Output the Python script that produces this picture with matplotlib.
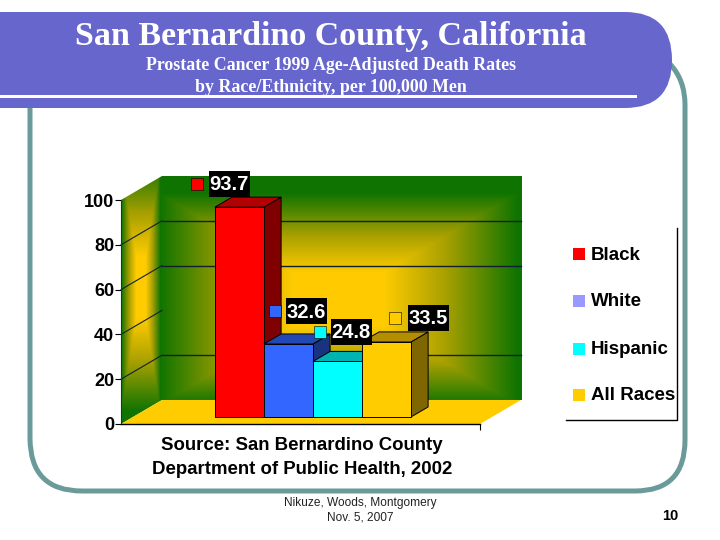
from matplotlib import pyplot as plt
from matplotlib.colors import LinearSegmentedColormap
from matplotlib.patches import Polygon, PathPatch, Rectangle
from matplotlib.path import Path
import numpy as np

groups = ['Black', 'White', 'Hispanic', 'All Races']
rates = [93.7, 32.6, 24.8, 33.5]
y_ticks = [0, 20, 40, 60, 80, 100]
back_grid = [20, 60, 80]
side_grid = [20, 40, 60, 80]

front_cols = ['#FF0000', '#3366FF', '#00FFFF', '#FFCC00']
top_cols = ['#B30000', '#2448B3', '#00B3B3', '#B38F00']
side_cols = ['#800000', '#1A3380', '#008080', '#806600']
legend_cols = ['#FF0000', '#9999FF', '#00FFFF', '#FFCC00']

# pixel positions of the data labels: key x, box centre x, y
label_pos = [(197, 229, 184), (275, 306, 311), (320, 351, 332), (395, 428, 318)]
legend_y = [254, 301, 349, 395]

BANNER = '#6666CC'
TEAL = '#6B9A9A'
YELLOW = '#FFCC00'
SERIF = 'Liberation Serif'
SANS = 'Liberation Sans'

fig = plt.figure(figsize=(7.2, 5.4), dpi=100, facecolor='white')

# axes box is the front plane of the chart, in pixels
L, R, T, B = 121, 480, 200, 424
ax = fig.add_axes([L/720, 1-B/540, (R-L)/720, (B-T)/540], zorder=1)
ax.patch.set_visible(False)
BAR_PX = 49.0
xmax = (R-L)/BAR_PX
ax.set_xlim(0, xmax)
ax.set_ylim(0, 100)
DX = 41/BAR_PX    # full depth, x data units
DY = 24/2.24      # full depth, y data units

def off(x, y, d):
  return (x + DX*d, y + DY*d)

# back wall
cmap = LinearSegmentedColormap.from_list('wall', [(0, YELLOW), (0.25, YELLOW), (0.6, '#A8A000'), (1, '#0F7400')])
u, v = np.meshgrid(np.linspace(-1, 1, 360), np.linspace(-1, 1, 224))
wall = np.clip(np.maximum(np.abs(u+0.02)/1.0, np.abs(v-0.1)/0.95), 0, 1)
x0, y0 = off(0, 0, 1)
im0 = ax.imshow(wall, cmap=cmap, vmin=0, vmax=1, aspect='auto', origin='upper', zorder=1,
                extent=(x0, x0+xmax, y0, y0+100))
im0.set_clip_on(False)

# side wall
v2, u2 = np.meshgrid(np.linspace(-1, 1, 40), np.linspace(-1, 1, 248))
side = np.clip(np.maximum(np.abs(v2+0.05)/0.95, np.abs(u2+0.1)/1.0), 0, 1)
im = ax.imshow(side, cmap=cmap, vmin=0, vmax=1, aspect='auto', origin='upper', zorder=1.2,
               extent=(0, DX, 0, DY+100))
clip = Polygon([(0, 0), (0, 100), off(0, 100, 1), off(0, 0, 1)], transform=ax.transData)
im.set_clip_path(clip)
im.set_clip_box(fig.bbox)

ax.set_xlim(0, xmax)
ax.set_ylim(0, 100)

# floor
ax.add_patch(Polygon([(0, 0), (xmax, 0), off(xmax, 0, 1), off(0, 0, 1)], fc=YELLOW, ec='none', zorder=2, clip_on=False))

for g in back_grid:
  p = off(0, g, 1)
  ax.plot([p[0], p[0]+xmax], [p[1], p[1]], color='#102030', lw=1, zorder=2, clip_on=False)
for g in side_grid:
  p = off(0, g, 1)
  ax.plot([0, p[0]], [g, p[1]], color='#102030', lw=0.8, zorder=2, clip_on=False)

# bars
d0, d1 = 0.29, 0.71
start = (203-L)/BAR_PX
for i, val in enumerate(rates):
  xa = start + i
  xb = xa + 1
  z = 3 + i*0.1
  a = off(xa, 0, d0)
  b = off(xb, 0, d0)
  c = off(xa, val, d0)
  e = off(xb, val, d0)
  f = off(xb, 0, d1)
  g = off(xb, val, d1)
  h = off(xa, val, d1)
  ax.add_patch(Polygon([b, f, g, e], fc=side_cols[i], ec='black', lw=0.7, zorder=z, clip_on=False))
  ax.add_patch(Polygon([c, e, g, h], fc=top_cols[i], ec='black', lw=0.7, zorder=z, clip_on=False))
  ax.add_patch(Polygon([a, b, e, c], fc=front_cols[i], ec='black', lw=0.7, zorder=z, clip_on=False))

for s in ['top', 'right']:
  ax.spines[s].set_visible(False)
ax.spines['left'].set_color('#0A3A50')
ax.spines['bottom'].set_linewidth(1.0)
ax.spines['bottom'].set_zorder(6)
ax.set_xticks([xmax])
ax.set_xticklabels([''])
ax.set_yticks(y_ticks)
ax.tick_params(axis='y', length=4, width=0.8, pad=1)
ax.tick_params(axis='x', length=4, width=0.8, direction='out')
for t in ax.get_yticklabels():
  t.set_family(SANS)
  t.set_fontweight('bold')
  t.set_fontsize(13)

# slide decoration and text, pixel coordinates
top = fig.add_axes([0, 0, 1, 1], zorder=2)
top.set_xlim(0, 720)
top.set_ylim(540, 0)
top.axis('off')

frame = Path([(670, 64), (685, 80), (685, 105), (685, 440), (685, 491), (635, 491),
              (82, 491), (30, 491), (30, 438), (30, 100)],
             [Path.MOVETO, Path.CURVE3, Path.CURVE3, Path.LINETO, Path.CURVE3, Path.CURVE3,
              Path.LINETO, Path.CURVE3, Path.CURVE3, Path.LINETO])
top.add_patch(PathPatch(frame, fc='none', ec=TEAL, lw=3.6, capstyle='butt', zorder=1))

banner = Path([(0, 12), (625, 12), (672, 12), (672, 60), (672, 108), (625, 108), (0, 108), (0, 12)],
              [Path.MOVETO, Path.LINETO, Path.CURVE3, Path.CURVE3, Path.CURVE3, Path.CURVE3, Path.LINETO, Path.CLOSEPOLY])
top.add_patch(PathPatch(banner, fc=BANNER, ec='none', zorder=2))
top.add_patch(Rectangle((0, 94.5), 637, 3, fc='white', ec='none', zorder=3))

top.text(331, 37, 'San Bernardino County, California', family=SERIF, fontweight='bold', color='white', fontsize=24.5,
         ha='center', va='center', zorder=4)
top.text(331, 65, 'Prostate Cancer 1999 Age-Adjusted Death Rates', family=SERIF, fontweight='bold',
         color='white', fontsize=12.9, ha='center', va='center', zorder=4)
top.text(331, 87, 'by Race/Ethnicity, per 100,000 Men', family=SERIF, fontweight='bold',
         color='white', fontsize=12.9, ha='center', va='center', zorder=4)

# data labels
for i, val in enumerate(rates):
  kx, bx, y = label_pos[i]
  top.add_patch(Rectangle((kx-6, y-6), 12, 12, fc=legend_cols[i] if i != 1 else front_cols[1],
                          ec='black', lw=0.4, zorder=5))
  top.add_patch(Rectangle((bx-20, y-13), 41, 26, fc='black', ec='none', zorder=5))
  top.text(bx, y+1, '%.1f' % val, family=SANS, fontweight='bold', color='white', fontsize=14.5,
           ha='center', va='center', zorder=6)

# legend
top.plot([677, 677, 566], [228, 420, 420], color='black', lw=1, zorder=5)
for i, name in enumerate(groups):
  y = legend_y[i]
  top.add_patch(Rectangle((573, y-6), 12, 12, fc=legend_cols[i], ec='none', zorder=5))
  top.text(591, y+1, name, family=SANS, fontweight='bold', color='black', fontsize=13.5,
           ha='left', va='center', zorder=6)

top.text(302, 446, 'Source: San Bernardino County', family=SANS, fontweight='bold', fontsize=13.4,
         ha='center', va='center')
top.text(302, 470, 'Department of Public Health, 2002', family=SANS, fontweight='bold', fontsize=13.4,
         ha='center', va='center')

top.text(360, 503, 'Nikuze, Woods, Montgomery', family=SANS, fontsize=8.6, color='#222222', ha='center', va='center')
top.text(360, 518, 'Nov. 5, 2007', family=SANS, fontsize=8.6, color='#222222', ha='center', va='center')
top.text(670, 516, '10', family=SANS, fontweight='bold', fontsize=10.5, ha='center', va='center')

fig.savefig('out.png', dpi=100)
